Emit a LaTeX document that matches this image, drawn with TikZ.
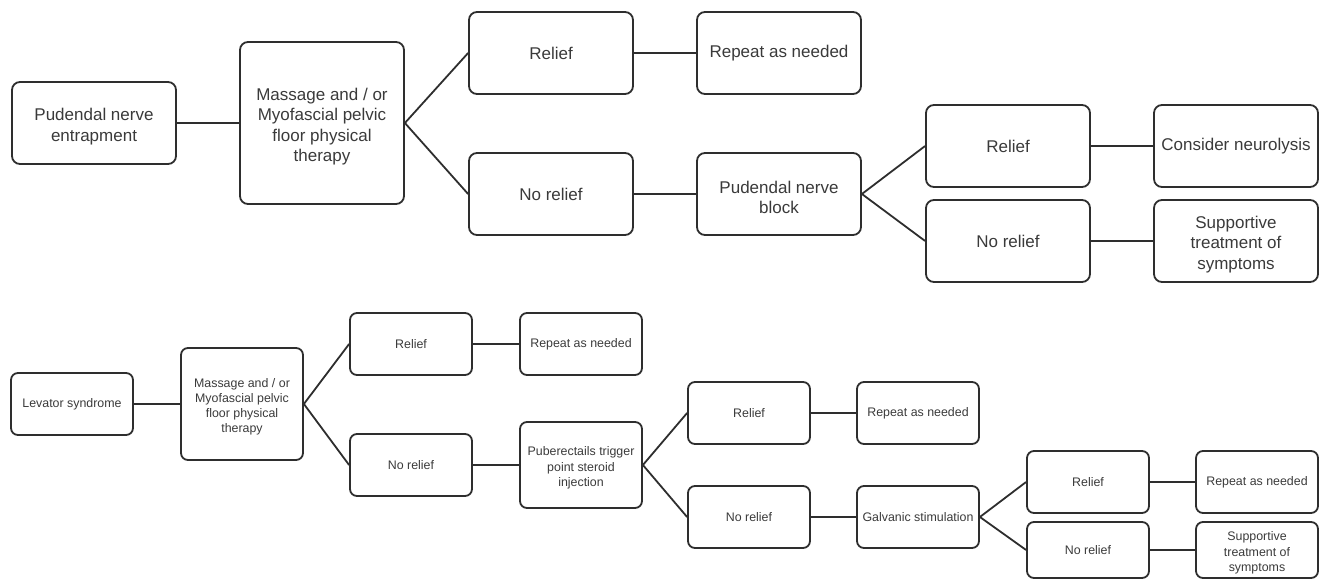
\documentclass[tikz,border=0pt]{standalone}
\usepackage{fontspec}
\setmainfont{Liberation Sans}
\definecolor{ink}{HTML}{2E2E2E}
\definecolor{textink}{HTML}{3A3A3A}
% taller first line, so multi-line labels sit a little lower in their boxes
\newcommand{\bigfirst}{\rule{0pt}{19.5pt}}
\newcommand{\smallfirst}{\rule{0pt}{14.6pt}}
\begin{document}
\begin{tikzpicture}[x=1pt,y=-1pt,
  bigbox/.style={draw=ink, line width=1.8pt, rounded corners=8pt,
    minimum width=164pt, minimum height=82pt, inner sep=0pt, align=center,
    font=\fontsize{17}{20.4}\selectfont, text=textink},
  smallbox/.style={draw=ink, line width=1.8pt, rounded corners=7pt,
    minimum width=122pt, minimum height=62pt, inner sep=0pt, align=center,
    font=\fontsize{12.4}{15.2}\selectfont, text=textink},
  link/.style={draw=ink, line width=1.8pt}]
\path[use as bounding box] (0,0) rectangle (1319,580);

% Pudendal nerve entrapment pathway
\node[bigbox] (pne) at (94,123) {\bigfirst Pudendal nerve\\entrapment};
\node[bigbox, minimum height=162pt] (mtA) at (322,123) {\bigfirst Massage and / or\\Myofascial pelvic\\floor physical\\therapy};
\node[bigbox] (relA) at (551,53) {Relief};
\node[bigbox] (repA) at (779,53) {Repeat as needed};
\node[bigbox] (norA) at (551,194) {No relief};
\node[bigbox] (pnb) at (779,194) {\bigfirst Pudendal nerve\\block};
\node[bigbox] (relB) at (1008,146) {Relief};
\node[bigbox] (neuro) at (1236,146) {Consider neurolysis};
\node[bigbox] (norB) at (1008,241) {No relief};
\node[bigbox] (supA) at (1236,241) {\bigfirst Supportive\\treatment of\\symptoms};

\draw[link] (pne.east) -- (mtA.west);
\draw[link] (mtA.east) -- (relA.west);
\draw[link] (mtA.east) -- (norA.west);
\draw[link] (relA.east) -- (repA.west);
\draw[link] (norA.east) -- (pnb.west);
\draw[link] (pnb.east) -- (relB.west);
\draw[link] (pnb.east) -- (norB.west);
\draw[link] (relB.east) -- (neuro.west);
\draw[link] (norB.east) -- (supA.west);

% Levator syndrome pathway
\node[smallbox] (lev) at (72,404) {Levator syndrome};
\node[smallbox, minimum height=112pt] (mtB) at (242,404) {\smallfirst Massage and / or\\Myofascial pelvic\\floor physical\\therapy};
\node[smallbox] (relC) at (411,344) {Relief};
\node[smallbox] (repC) at (581,344) {Repeat as needed};
\node[smallbox] (norC) at (411,465) {No relief};
\node[smallbox, minimum height=86pt] (pub) at (581,465) {\smallfirst Puberectails trigger\\point steroid\\injection};
\node[smallbox] (relD) at (749,413) {Relief};
\node[smallbox] (repD) at (918,413) {Repeat as needed};
\node[smallbox] (norD) at (749,517) {No relief};
\node[smallbox] (gal) at (918,517) {Galvanic stimulation};
\node[smallbox] (relE) at (1088,482) {Relief};
\node[smallbox] (repE) at (1257,482) {Repeat as needed};
\node[smallbox, minimum height=56pt] (norE) at (1088,550) {No relief};
\node[smallbox, minimum height=56pt] (supB) at (1257,550) {\smallfirst Supportive\\treatment of\\symptoms};

\draw[link] (lev.east) -- (mtB.west);
\draw[link] (mtB.east) -- (relC.west);
\draw[link] (mtB.east) -- (norC.west);
\draw[link] (relC.east) -- (repC.west);
\draw[link] (norC.east) -- (pub.west);
\draw[link] (pub.east) -- (relD.west);
\draw[link] (pub.east) -- (norD.west);
\draw[link] (relD.east) -- (repD.west);
\draw[link] (norD.east) -- (gal.west);
\draw[link] (gal.east) -- (relE.west);
\draw[link] (gal.east) -- (norE.west);
\draw[link] (relE.east) -- (repE.west);
\draw[link] (norE.east) -- (supB.west);
\end{tikzpicture}
\end{document}
